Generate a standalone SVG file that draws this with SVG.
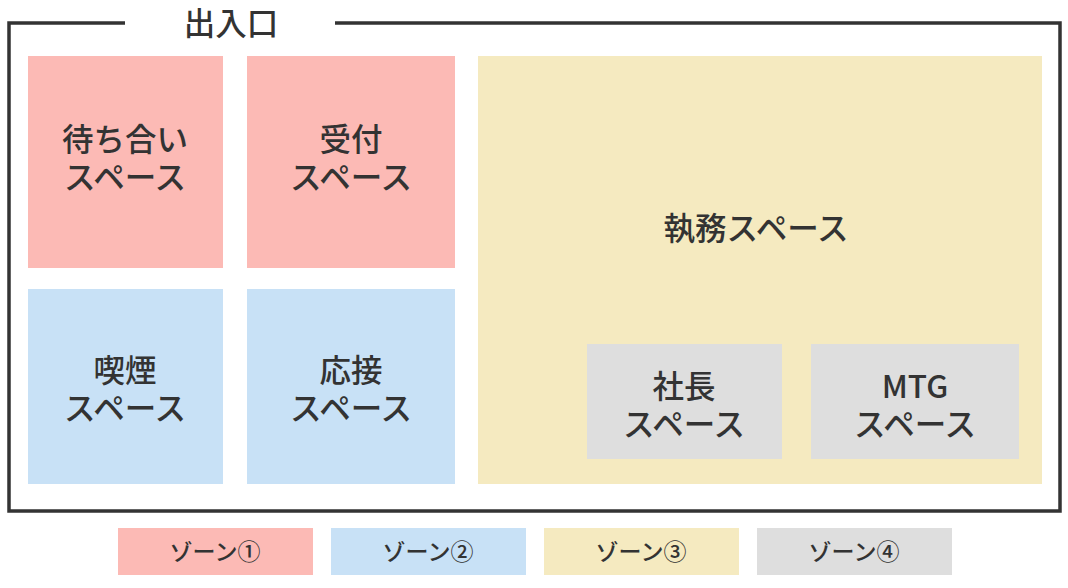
<svg xmlns="http://www.w3.org/2000/svg" width="1068" height="588" viewBox="0 0 1068 588">
<style>
text{font-family:"Noto Sans CJK JP","Noto Sans",sans-serif;fill:#333;text-anchor:middle;font-weight:500}
.lbl{font-size:31.5px}
.leg{font-size:23px}
.z1{fill:#FCBAB5}.z2{fill:#C8E1F6}.z3{fill:#F5EAC0}.z4{fill:#DEDEDE}
.wall{fill:none;stroke:#333;stroke-width:3.5}
</style>
<rect width="1068" height="588" fill="#fff"/>
<g id="building">
<path class="wall" d="M125 23 H9 V511 H1060 V23 H335"/>
<text x="231" y="35" class="lbl">出入口</text>
</g>
<g id="waiting"><rect class="z1" x="28" y="56" width="195" height="212"/><text class="lbl" x="125" y="151">待ち合い</text><text class="lbl" x="125" y="189">スペース</text></g>
<g id="reception"><rect class="z1" x="247" y="56" width="208" height="212"/><text class="lbl" x="351" y="151">受付</text><text class="lbl" x="351" y="189">スペース</text></g>
<g id="smoking"><rect class="z2" x="28" y="289" width="195" height="195"/><text class="lbl" x="125" y="382">喫煙</text><text class="lbl" x="125" y="420">スペース</text></g>
<g id="guest"><rect class="z2" x="247" y="289" width="208" height="195"/><text class="lbl" x="351" y="382">応接</text><text class="lbl" x="351" y="420">スペース</text></g>
<g id="office"><rect class="z3" x="478" y="56" width="564" height="428"/><text class="lbl" x="756" y="240">執務スペース</text></g>
<g id="president"><rect class="z4" x="587" y="344" width="195" height="115"/><text class="lbl" x="684" y="398">社長</text><text class="lbl" x="684" y="436">スペース</text></g>
<g id="mtg"><rect class="z4" x="811" y="344" width="208" height="115"/><text class="lbl" x="915" y="398">MTG</text><text class="lbl" x="915" y="436">スペース</text></g>
<g id="connectors"/>
<g id="legend">
<g id="leg1"><rect class="z1" x="118" y="528" width="195" height="47"/><text class="leg" x="215" y="560">ゾーン①</text></g>
<g id="leg2"><rect class="z2" x="331" y="528" width="195" height="47"/><text class="leg" x="428" y="560">ゾーン②</text></g>
<g id="leg3"><rect class="z3" x="544" y="528" width="195" height="47"/><text class="leg" x="641" y="560">ゾーン③</text></g>
<g id="leg4"><rect class="z4" x="757" y="528" width="195" height="47"/><text class="leg" x="854" y="560">ゾーン④</text></g>
</g>
</svg>
